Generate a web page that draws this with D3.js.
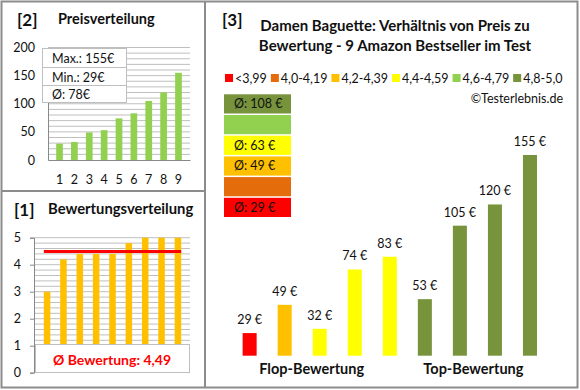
<!DOCTYPE html>
<html><head><meta charset="utf-8">
<script src="https://cdn.jsdelivr.net/npm/d3@7"></script>
<style>
body{margin:0;background:#fff;}
svg{display:block;font-family:Lato,"Open Sans",sans-serif;}
</style></head>
<body><svg id="c" width="580" height="390"></svg>
<script>
// ---- data ----
const priceIdx = ["1","2","3","4","5","6","7","8","9"];
const priceValues = [29,32,49,53,74,83,105,120,155];
const priceTicks = [0,50,100,150,200];
const priceStats = ["Max.: 155€","Min.: 29€","Ø: 78€"];

const ratingValues = [3.0,4.2,4.4,4.4,4.4,4.8,5.0,5.0,5.0];
const ratingTicks = [0,1,2,3,4,5];
const ratingAvg = 4.49;
const ratingAvgLabel = "Ø Bewertung: 4,49";

const legendLabels = ["<3,99","4,0-4,19","4,2-4,39","4,4-4,59","4,6-4,79","4,8-5,0"];
const legendColors = ["#FF0000","#E46C0A","#FFC000","#FFFF00","#92D050","#77933C"];
const avgLabels = ["Ø: 108 €","","Ø: 63 €","Ø: 49 €","","Ø: 29 €"]; // top to bottom: 4,8-5,0 ... <3,99
const avgColors = ["#77933C","#92D050","#FFFF00","#FFC000","#E46C0A","#FF0000"];

const barPrices = [29,49,32,74,83,53,105,120,155];
const barClass = [0,2,3,3,3,5,5,5,5]; // index into legendColors
const groups = [{name:"Flop-Bewertung",from:0,to:4},{name:"Top-Bewertung",from:5,to:8}];

const svg = d3.select("#c");
const frame = "#8C8C8C";

// ---- frames ----
svg.append("rect").attr("x",1.5).attr("y",1.5).attr("width",576).attr("height",386)
  .attr("fill","#fff").attr("stroke",frame).attr("stroke-width",2);
svg.append("line").attr("x1",205).attr("x2",205).attr("y1",1).attr("y2",388).attr("stroke",frame).attr("stroke-width",2);
svg.append("line").attr("x1",1).attr("x2",205).attr("y1",191).attr("y2",191).attr("stroke",frame).attr("stroke-width",2);

// ---- Panel [2] Preisverteilung ----
{
  const g = svg.append("g");
  g.append("text").attr("x",17).attr("y",26).attr("font-size",17).attr("font-weight","bold").attr("fill","#111").text("[2]");
  g.append("text").attr("x",58).attr("y",24).attr("font-size",14.5).attr("font-weight","bold").attr("fill","#111").text("Preisverteilung");
  const x = d3.scaleBand().domain(priceIdx).range([48,190]).padding(0.55);
  const y = d3.scaleLinear().domain([0,200]).range([160,47.5]);
  g.append("g").selectAll("line").data(d3.range(10,201,10)).join("line")
    .attr("x1",48).attr("x2",190).attr("y1",d=>y(d)).attr("y2",d=>y(d))
    .attr("stroke","#BFBFBF").attr("stroke-width",1);
  g.append("g").selectAll("rect").data(priceValues).join("rect")
    .attr("x",(d,i)=>x(priceIdx[i])).attr("width",x.bandwidth())
    .attr("y",d=>y(d)).attr("height",d=>y(0)-y(d)).attr("fill","#92D050");
  const ya = d3.axisLeft(y).tickValues(priceTicks).tickSize(0).tickPadding(13);
  const ay = g.append("g").attr("transform","translate(48,0)").call(ya);
  ay.select(".domain").attr("stroke","#888");
  ay.selectAll("text").attr("font-size",12.5).attr("font-family","Lato").attr("fill","#111");
  const xa = d3.axisBottom(x).tickSize(0).tickPadding(15);
  const ax = g.append("g").attr("transform","translate(0,160)").call(xa);
  ax.select(".domain").attr("stroke","#888");
  ax.selectAll("text").attr("font-size",12.5).attr("font-family","Lato").attr("fill","#111");
  // stats box
  const bx = g.append("g");
  bx.append("rect").attr("x",42.5).attr("y",48.5).attr("width",84).attr("height",54).attr("fill","#fff").attr("stroke","#BFBFBF");
  [67,85].forEach(v=>bx.append("line").attr("x1",42.5).attr("x2",126.5).attr("y1",v+0.5).attr("y2",v+0.5).attr("stroke","#BFBFBF"));
  bx.selectAll("text").data(priceStats).join("text")
    .attr("x",52).attr("y",(d,i)=>[62.5,81.5,99][i]).attr("font-size",12.5).attr("fill","#111").text(d=>d);
}

// ---- Panel [1] Bewertungsverteilung ----
{
  const g = svg.append("g");
  g.append("text").attr("x",14).attr("y",216).attr("font-size",17).attr("font-weight","bold").attr("fill","#111").text("[1]");
  g.append("text").attr("x",48).attr("y",214).attr("font-size",14.8).attr("font-weight","bold").attr("fill","#111").text("Bewertungsverteilung");
  const x = d3.scaleBand().domain(priceIdx).range([34,191]).padding(0.6);
  const y = d3.scaleLinear().domain([0,5]).range([372.7,237.7]);
  g.append("g").selectAll("line").data(d3.range(1,26).map(d=>d/5)).join("line")
    .attr("x1",34).attr("x2",190).attr("y1",d=>y(d)).attr("y2",d=>y(d))
    .attr("stroke","#BFBFBF").attr("stroke-width",1);
  g.append("g").selectAll("rect").data(ratingValues).join("rect")
    .attr("x",(d,i)=>x(priceIdx[i])).attr("width",x.bandwidth())
    .attr("y",d=>y(d)).attr("height",d=>y(0)-y(d)).attr("fill","#FFC000");
  g.append("line").attr("x1",x(priceIdx[0])).attr("x2",x(priceIdx[8])+x.bandwidth())
    .attr("y1",y(ratingAvg)).attr("y2",y(ratingAvg)).attr("stroke","#FF0000").attr("stroke-width",3);
  const ya = d3.axisLeft(y).tickValues(ratingTicks).tickFormat(d3.format("d")).tickSize(4).tickPadding(9);
  const ay = g.append("g").attr("transform","translate(34,0)").call(ya);
  ay.select(".domain").attr("stroke","#888");
  ay.selectAll("line").attr("stroke","#888");
  ay.selectAll("text").attr("font-size",12.5).attr("font-family","Lato").attr("fill","#111");
  g.append("rect").attr("x",35.5).attr("y",344.5).attr("width",154).attr("height",28).attr("fill","#fff").attr("stroke","#BFBFBF");
  g.append("text").attr("x",112).attr("y",364.5).attr("text-anchor","middle").attr("font-size",14).attr("font-weight","bold")
    .attr("fill","#FF0000").text(ratingAvgLabel);
}

// ---- Panel [3] ----
{
  const g = svg.append("g");
  g.append("text").attr("x",222).attr("y",26).attr("font-size",17).attr("font-weight","bold").attr("fill","#111").text("[3]");
  g.append("text").attr("x",395).attr("y",31).attr("text-anchor","middle").attr("font-size",15).attr("font-weight","bold").attr("fill","#111")
    .text("Damen Baguette: Verhältnis von Preis zu");
  g.append("text").attr("x",395).attr("y",51).attr("text-anchor","middle").attr("font-size",15).attr("font-weight","bold").attr("fill","#111")
    .text("Bewertung - 9 Amazon Bestseller im Test");
  // legend
  const lg = g.append("g");
  let lx = 225;
  legendLabels.forEach((lab,i)=>{
    lg.append("rect").attr("x",lx).attr("y",74).attr("width",8).attr("height",8).attr("fill",legendColors[i]);
    const t = lg.append("text").attr("x",lx+10).attr("y",82.5).attr("font-size",12.5).attr("fill","#111").text(lab);
    lx += 10 + t.node().getComputedTextLength() + 4;
  });
  g.append("text").attr("x",563).attr("y",103).attr("text-anchor","end").attr("font-size",12.5).attr("fill","#111").text("©Testerlebnis.de");
  // average boxes
  const ab = g.append("g");
  ab.selectAll("rect").data(avgColors).join("rect")
    .attr("x",224).attr("width",67).attr("y",(d,i)=>94.3+i*20.7).attr("height",19.2).attr("fill",d=>d);
  ab.selectAll("text").data(avgLabels).join("text")
    .attr("x",234).attr("y",(d,i)=>94.3+i*20.7+14).attr("font-size",12.5).attr("fill","#111").text(d=>d);
  // bars
  const x = d3.scaleBand().domain(d3.range(barPrices.length)).range([221.6,558]).padding(0.6);
  const y = d3.scaleLinear().domain([13,155]).range([355.7,155]);
  g.append("g").selectAll("rect").data(barPrices).join("rect")
    .attr("x",(d,i)=>x(i)).attr("width",x.bandwidth()).attr("y",d=>y(d)).attr("height",d=>y(13)-y(d))
    .attr("fill",(d,i)=>legendColors[barClass[i]]);
  g.append("g").selectAll("text").data(barPrices).join("text")
    .attr("x",(d,i)=>x(i)+x.bandwidth()/2).attr("y",d=>y(d)-9).attr("text-anchor","middle")
    .attr("font-size",12.5).attr("fill","#111").text(d=>d+" €");
  const gdx = [-8,-4];
  g.append("g").selectAll("text").data(groups).join("text")
    .attr("x",(d,i)=>(x(d.from)+x(d.to)+x.bandwidth())/2+gdx[i]).attr("y",374).attr("text-anchor","middle")
    .attr("font-size",14.5).attr("font-weight","bold").attr("fill","#111").text(d=>d.name);
}
</script></body></html>
